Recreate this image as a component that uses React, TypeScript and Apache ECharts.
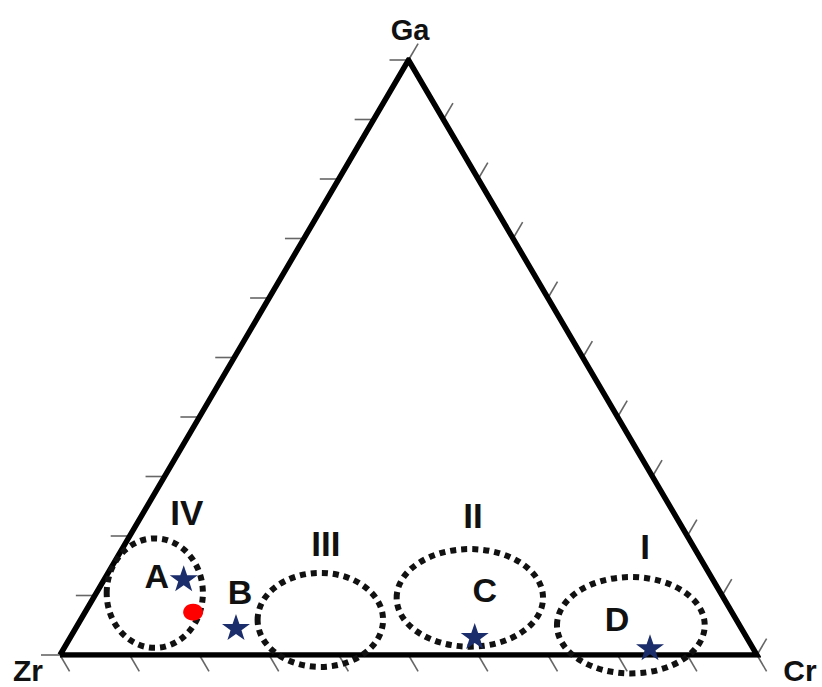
import React, { useEffect, useRef } from "react";
import * as echarts from "echarts";

// Ternary compositions (Zr, Cr, Ga in %)
const pointNames = ["A", "B", "C", "D"];
const pointZr = [75.8, 72.4, 38.9, 14.7];
const pointCr = [11.3, 22.9, 57.9, 84.0];
const pointGa = [12.9, 4.7, 3.2, 1.3];

const sampleZr = [77.3];
const sampleCr = [15.5];
const sampleGa = [7.2];

const regionNames = ["IV", "III", "II", "I"];
const regionZr = [81.2, 59.7, 36.4, 15.6];
const regionCr = [8.4, 34.4, 54.0, 79.4];
const regionGa = [10.4, 5.9, 9.6, 5.0];
const regionHalfWidth = [6.9, 9.0, 10.5, 10.6];
const regionHalfHeight = [9.2, 7.9, 8.2, 8.1];

const regionLabelZr = [69.8, 52.5, 29.0, 6.9];
const regionLabelCr = [6.2, 28.8, 47.5, 74.8];
const regionLabelGa = [24.0, 18.7, 23.5, 18.3];

const tickValues = [0, 10, 20, 30, 40, 50, 60, 70, 80, 90, 100];
const vertexNames = ["Zr", "Cr", "Ga"];

const toXY = (zr: number, cr: number, ga: number) => {
  const s = zr + cr + ga;
  const c = (cr / s) * 100;
  const g = (ga / s) * 100;
  return [c + g / 2, g];
};

const pointLabelOffsets = [
  [-27, -2],
  [4, -35],
  [10, -46],
  [-33, -28],
];

const STAR =
  "path://M50,0 L61.8,35.1 L98.1,35.1 L68.8,56.7 L79.4,91.0 L50,70.0 L20.6,91.0 L31.2,56.7 L1.9,35.1 L38.2,35.1 Z";

const FONT = "Liberation Sans, Arial, sans-serif";

export default function App() {
  const ref = useRef<HTMLDivElement>(null);
  useEffect(() => {
    if (!ref.current) return;
    const chart = echarts.init(ref.current, undefined, { renderer: "svg" });

    const triangle = [
      toXY(100, 0, 0),
      toXY(0, 100, 0),
      toXY(0, 0, 100),
      toXY(100, 0, 0),
    ];

    const tickData: number[][] = [];
    tickValues.forEach((k) => {
      tickData.push([k / 2, k, 0]); // left side
      tickData.push([k, 0, 1]); // bottom
      tickData.push([100 - k / 2, k, 2]); // right side
    });

    const regionData = regionNames.map((n, i) => {
      const c = toXY(regionZr[i], regionCr[i], regionGa[i]);
      return [c[0], c[1], regionHalfWidth[i], regionHalfHeight[i]];
    });

    const regionLabelData = regionNames.map((n, i) => {
      const c = toXY(regionLabelZr[i], regionLabelCr[i], regionLabelGa[i]);
      return { value: [c[0], c[1]], name: n };
    });

    const starData = pointNames.map((n, i) => ({
      value: toXY(pointZr[i], pointCr[i], pointGa[i]),
      name: n,
      label: {
        show: true,
        position: "inside",
        offset: pointLabelOffsets[i],
        formatter: n,
        color: "#111",
        opacity: 1,
        fontSize: 34,
        fontWeight: "bold",
        fontFamily: FONT,
      },
    }));

    const sampleData = sampleZr.map((z, i) => toXY(z, sampleCr[i], sampleGa[i]));

    const unit = (v: number[]) => {
      const l = Math.hypot(v[0], v[1]);
      return [v[0] / l, v[1] / l];
    };

    chart.setOption({
      animation: false,
      backgroundColor: "#ffffff",
      grid: { left: 60, top: 60, width: 697, height: 595 },
      xAxis: { type: "value", min: 0, max: 100, show: false },
      yAxis: { type: "value", min: 0, max: 100, show: false },
      graphic: [
        {
          type: "text",
          x: 410,
          y: 30,
          style: {
            text: vertexNames[2],
            font: "bold 29px " + FONT,
            fill: "#111",
            align: "center",
            verticalAlign: "middle",
          },
        },
        {
          type: "text",
          x: 28,
          y: 670,
          style: {
            text: vertexNames[0],
            font: "bold 30px " + FONT,
            fill: "#111",
            align: "center",
            verticalAlign: "middle",
          },
        },
        {
          type: "text",
          x: 800,
          y: 670,
          style: {
            text: vertexNames[1],
            font: "bold 30px " + FONT,
            fill: "#111",
            align: "center",
            verticalAlign: "middle",
          },
        },
      ],
      series: [
        {
          type: "custom",
          z: 1,
          silent: true,
          data: tickData,
          renderItem: (params: any, api: any) => {
            const foot = api.coord([api.value(0), api.value(1)]);
            const side = api.value(2);
            const pZr = api.coord([0, 0]);
            const pCr = api.coord([100, 0]);
            const pGa = api.coord([50, 100]);
            let d: number[];
            if (side === 0) d = [-1, 0];
            else if (side === 1) d = unit([pCr[0] - pGa[0], pCr[1] - pGa[1]]);
            else d = unit([pGa[0] - pZr[0], pGa[1] - pZr[1]]);
            const L = 19;
            return {
              type: "line",
              shape: {
                x1: foot[0],
                y1: foot[1],
                x2: foot[0] + d[0] * L,
                y2: foot[1] + d[1] * L,
              },
              style: { stroke: "#666", lineWidth: 1.6 },
            };
          },
        },
        {
          type: "line",
          z: 2,
          data: triangle,
          symbol: "none",
          silent: true,
          lineStyle: { color: "#000", width: 5.5, join: "miter", miterLimit: 20 },
        },
        {
          type: "custom",
          z: 3,
          silent: true,
          data: regionData,
          renderItem: (params: any, api: any) => {
            const c = api.coord([api.value(0), api.value(1)]);
            const s = api.size([api.value(2), api.value(3)]);
            return {
              type: "ellipse",
              shape: { cx: c[0], cy: c[1], rx: s[0], ry: s[1] },
              style: {
                fill: "none",
                stroke: "#111",
                lineWidth: 6,
                lineDash: [6, 5],
              },
            };
          },
        },
        {
          type: "custom",
          z: 4,
          silent: true,
          data: regionLabelData,
          renderItem: (params: any, api: any) => {
            const c = api.coord([api.value(0), api.value(1)]);
            return {
              type: "text",
              x: c[0],
              y: c[1],
              style: {
                text: regionNames[params.dataIndex],
                font: "bold 35px " + FONT,
                fill: "#111",
                align: "center",
                verticalAlign: "middle",
              },
            };
          },
        },
        {
          type: "scatter",
          z: 5,
          data: starData,
          symbol: STAR,
          symbolSize: [28, 26],
          itemStyle: { color: "#1b2d6b", opacity: 1 },
        },
        {
          type: "scatter",
          z: 5,
          data: sampleData,
          symbol: "circle",
          symbolSize: [20, 17],
          itemStyle: { color: "#ff0000", opacity: 1 },
        },
      ],
    });
    return () => chart.dispose();
  }, []);
  return <div ref={ref} style={{ width: 822, height: 687, position: "absolute", left: 0, top: 0 }} />;
}
